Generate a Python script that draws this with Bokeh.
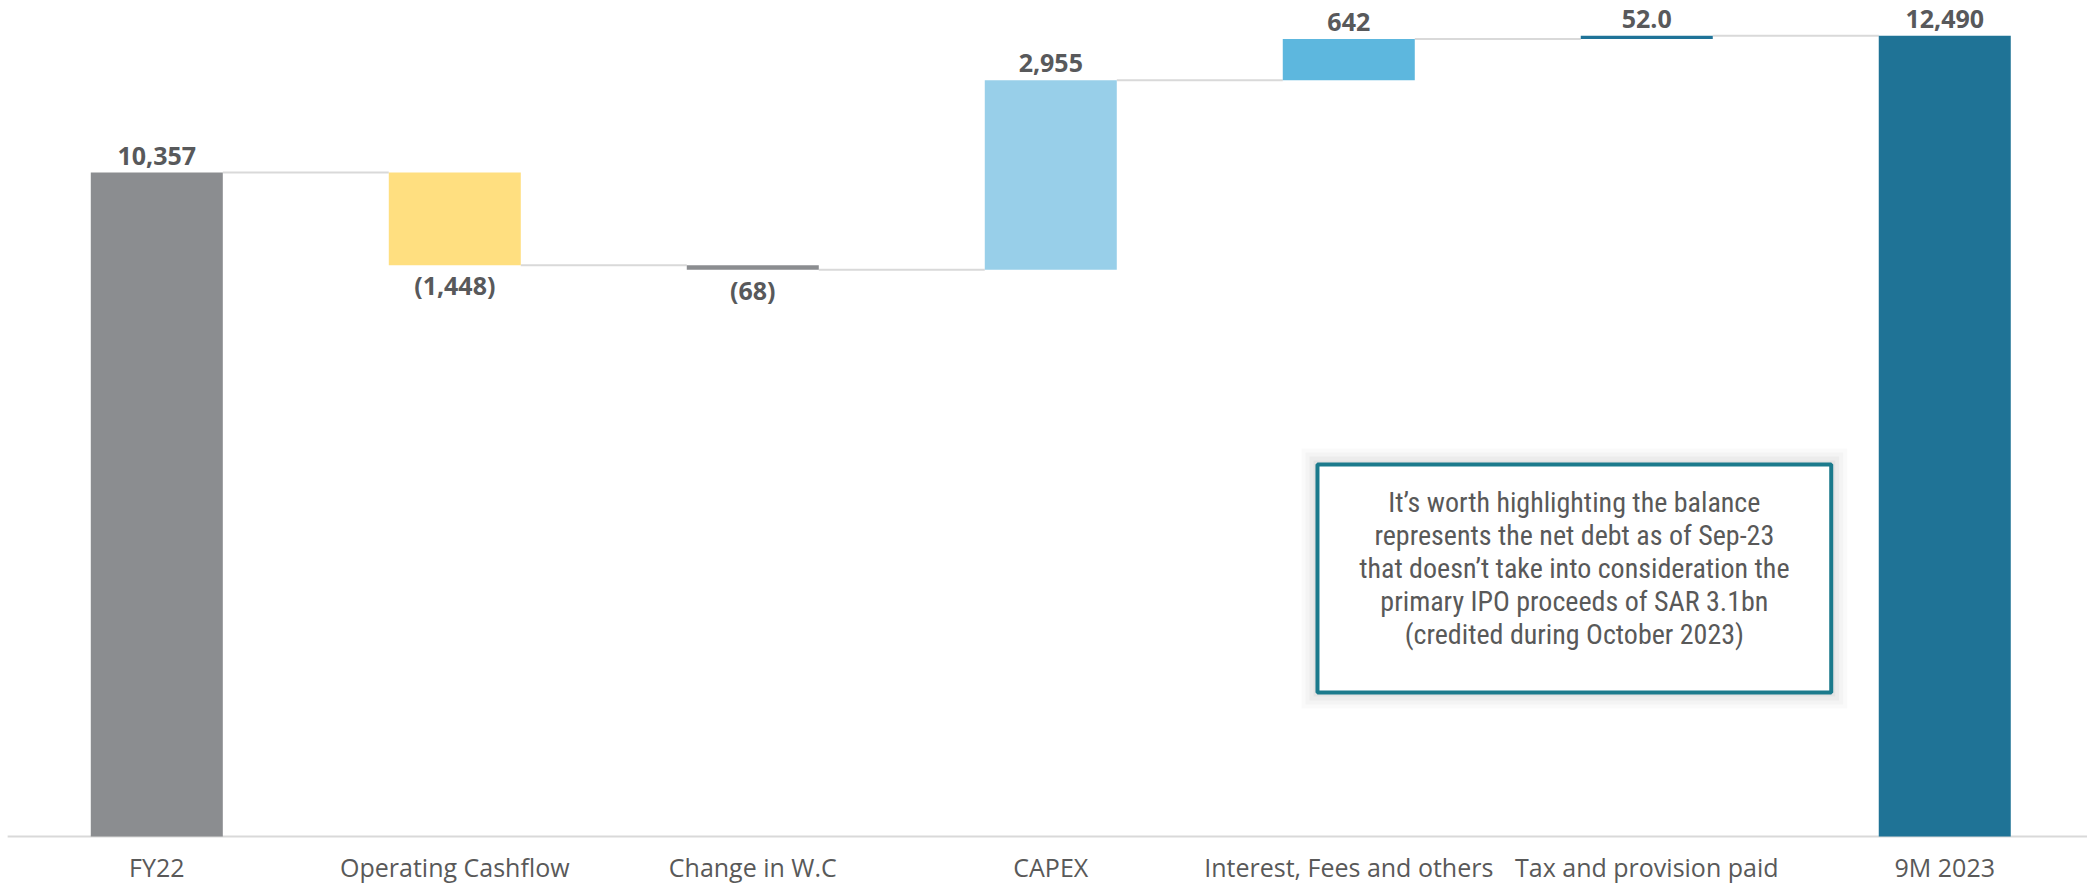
from bokeh.plotting import figure
from bokeh.models import Range1d, ColumnDataSource
from bokeh.core.properties import value
from bokeh.embed import file_html
from bokeh.resources import INLINE

# ---- data ----
categories = ["FY22", "Operating Cashflow", "Change in W.C", "CAPEX",
              "Interest, Fees and others", "Tax and provision paid", "9M 2023"]
amounts = [10357, -1448, -68, 2955, 642, 52.0, 12490]
kinds = ["total", "delta", "delta", "delta", "delta", "delta", "total"]
value_labels = ["10,357", "(1,448)", "(68)", "2,955", "642", "52.0", "12,490"]
bar_colors = ["#8b8d90", "#ffdf80", "#8b8d90", "#98cfe9", "#5db7de", "#1f7398", "#1f7396"]
note_lines = [
    "It\u2019s worth highlighting the balance",
    "represents the net debt as of Sep-23",
    "that doesn\u2019t take into consideration the",
    "primary IPO proceeds of SAR 3.1bn",
    "(credited during October 2023)",
]

# ---- waterfall geometry ----
xs = list(range(len(categories)))
bottoms, tops, levels = [], [], []
run = 0.0
for a, k in zip(amounts, kinds):
    if k == "total":
        b, t = 0.0, a
        run = a
    else:
        nxt = run + a
        b, t = min(run, nxt), max(run, nxt)
        run = nxt
    bottoms.append(b)
    tops.append(t)
    levels.append(run)

BAR_W = 0.443
X0, X1 = -0.5245, 6.479
Y0, Y1 = -842.3, 13040.1

p = figure(width=2087, height=890, output_backend="svg", toolbar_location=None,
           x_range=Range1d(X0, X1), y_range=Range1d(Y0, Y1),
           x_axis_location=None, y_axis_location=None, min_border=0)
p.outline_line_color = None
p.xgrid.visible = False
p.ygrid.visible = False

# baseline (category axis line)
p.segment(x0=[X0 + 0.024], y0=[0], x1=[X1], y1=[0], line_color="#d9d9d9", line_width=2)

# connectors
cx0 = [x + BAR_W / 2 for x in xs[:-1]]
cx1 = [x + 1 - BAR_W / 2 for x in xs[:-1]]
p.segment(x0=cx0, y0=levels[:-1], x1=cx1, y1=levels[:-1], line_color="#d9d9d9", line_width=2)

src = ColumnDataSource(dict(x=xs, bottom=bottoms, top=tops, color=bar_colors))
p.vbar(x="x", width=BAR_W, bottom="bottom", top="top", fill_color="color",
       line_color=None, source=src)

# value labels
up = [i for i, (a, k) in enumerate(zip(amounts, kinds)) if k == "total" or a >= 0]
dn = [i for i, (a, k) in enumerate(zip(amounts, kinds)) if k != "total" and a < 0]
lab_font = value("Open Sans")
p.text(x=[xs[i] for i in up], y=[tops[i] for i in up], text=[value_labels[i] for i in up],
       text_align="center", text_baseline="alphabetic", y_offset=-17,
       text_font=lab_font, text_font_style="bold", text_font_size="25px", text_color="#58595b")
p.text(x=[xs[i] for i in dn], y=[bottoms[i] for i in dn], text=[value_labels[i] for i in dn],
       text_align="center", text_baseline="alphabetic", y_offset=20,
       text_font=lab_font, text_font_style="bold", text_font_size="25px", text_color="#58595b")

# category labels
p.text(x=xs, y=[0] * len(xs), text=categories, text_align="center",
       text_baseline="alphabetic", y_offset=30, text_font=lab_font,
       text_font_size="25px", text_color="#595959")

# note box
bl, br, bt, bb = 3.895, 5.619, 5803, 2246
px_x, px_y = 1 / 298.0, 1 / 0.06411
for k, a in [(16, 0.02), (12, 0.025), (8, 0.03), (4, 0.035)]:
    p.quad(left=bl - k * px_x, right=br + k * px_x, top=bt + k * px_y, bottom=bb - k * px_y,
           fill_color="#000000", fill_alpha=a, line_color=None)
p.quad(left=bl, right=br, top=bt, bottom=bb, fill_color="white",
       line_color="#1b7a8c", line_width=4)
cx = (bl + br) / 2
for i, line in enumerate(note_lines):
    p.text(x=[cx], y=[bt], text=[line], text_align="center", text_baseline="alphabetic",
           y_offset=38 + 33 * i, text_font=value("Roboto Condensed, Roboto"),
           text_font_size="28px", text_color="#595959")

open("out.html", "w").write(file_html(p, INLINE))
